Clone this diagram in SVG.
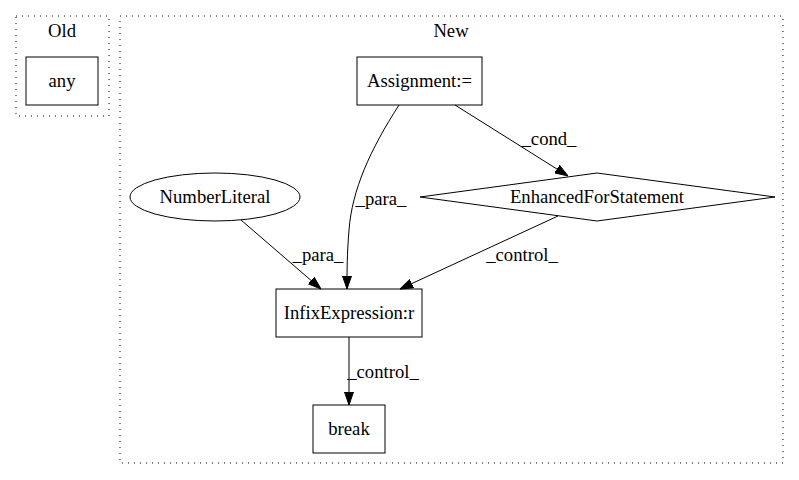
<svg xmlns="http://www.w3.org/2000/svg" width="799" height="480" viewBox="0 0 799 480">
<defs>
<marker id="ah" markerWidth="13" markerHeight="10" refX="13" refY="5" orient="auto" markerUnits="userSpaceOnUse">
<polygon points="0,0.5 13,5 0,9.5" fill="#000" stroke="#000"/>
</marker>
<style>
.cl{fill:none;stroke:#000;stroke-dasharray:1,5}
.n{fill:none;stroke:#000;stroke-width:1}
.e{fill:none;stroke:#000;stroke-width:1;marker-end:url(#ah)}
</style>
</defs>
<rect width="799" height="480" fill="#fff"/>
<g font-family="Liberation Serif, Times New Roman, serif" font-size="18.67" text-anchor="middle" fill="#000">
<g id="cluster_old">
<rect class="cl" x="16" y="16" width="93" height="100"/>
<text x="62" y="37">Old</text>
</g>
<g id="cluster_new">
<rect class="cl" x="120" y="16" width="663" height="447"/>
<text x="451" y="37">New</text>
</g>
<g id="any"><rect class="n" x="26" y="57" width="72" height="48"/><text x="62" y="87">any</text></g>
<g id="assign"><rect class="n" x="357" y="57" width="125" height="48"/><text x="419.5" y="87">Assignment:=</text></g>
<g id="numlit"><ellipse class="n" cx="215" cy="197" rx="85" ry="24"/><text x="215" y="203">NumberLiteral</text></g>
<g id="efs"><polygon class="n" points="597,173 775,197 597,221 420,197"/><text x="597" y="203">EnhancedForStatement</text></g>
<g id="infix"><rect class="n" x="276" y="289" width="146" height="48"/><text x="349" y="319">InfixExpression:r</text></g>
<g id="brk"><rect class="n" x="313" y="405" width="72" height="48"/><text x="349" y="435">break</text></g>
<g id="edges">
<path class="e" d="M399,105 C370,150 352,190 349,230 C347,255 347,270 347,289"/>
<text x="381" y="205">_para_</text>
<path class="e" d="M455,105 L568,176"/>
<text x="549" y="145">_cond_</text>
<path class="e" d="M241,220 L321,289"/>
<text x="318" y="261">_para_</text>
<path class="e" d="M558,216 L400,289"/>
<text x="522" y="261">_control_</text>
<path class="e" d="M349,337 L349,405"/>
<text x="383" y="378">_control_</text>
</g>
</g>
</svg>
